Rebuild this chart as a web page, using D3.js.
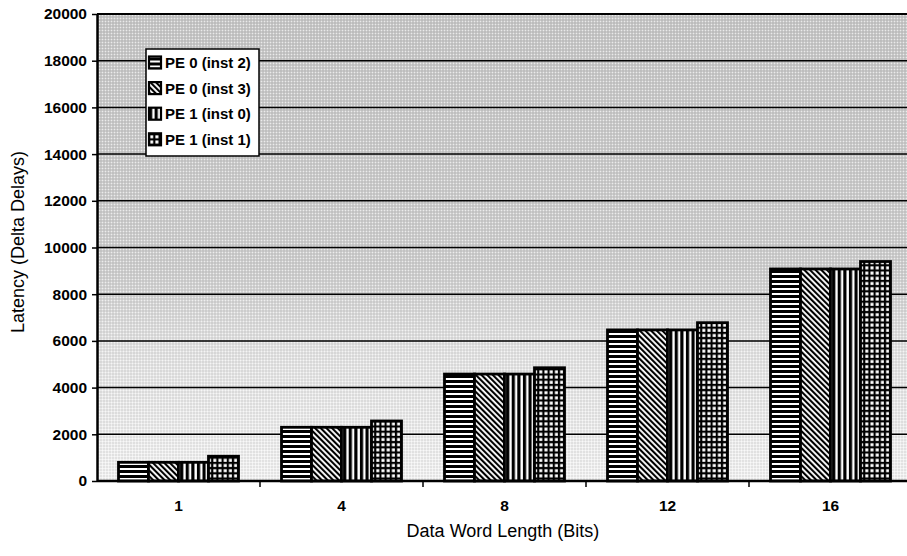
<!DOCTYPE html>
<html>
<head>
<meta charset="utf-8">
<script src="https://cdn.jsdelivr.net/npm/d3@7"></script>
<style>
  html, body { margin: 0; padding: 0; background: #fff; }
  svg { display: block; }
  text { font-family: "Liberation Sans", Arial, Helvetica, sans-serif; fill: #000; }
</style>
</head>
<body>
<script>
// Word lengths on the x axis
const categories = ["1", "4", "8", "12", "16"];

// Series names (legend order)
const seriesNames = ["PE 0 (inst 2)", "PE 0 (inst 3)", "PE 1 (inst 0)", "PE 1 (inst 1)"];

// Latency in delta delays, one array per processing element instance
const pe0Inst2 = [800, 2300, 4580, 6470, 9080];
const pe0Inst3 = [800, 2300, 4580, 6470, 9080];
const pe1Inst0 = [800, 2300, 4580, 6470, 9080];
const pe1Inst1 = [1060, 2570, 4850, 6780, 9400];

const yTicks = [0, 2000, 4000, 6000, 8000, 10000, 12000, 14000, 16000, 18000, 20000];

const seriesValues = [pe0Inst2, pe0Inst3, pe1Inst0, pe1Inst1];

const W = 907, H = 556;
const margin = { left: 97, top: 14, right: -5, bottom: 75 };
const x0 = margin.left, x1 = W - margin.right;
const yTop = margin.top, yBot = H - margin.bottom;

const svg = d3.select("body").append("svg").attr("width", W).attr("height", H);
const defs = svg.append("defs");

// Stippled grey plot background, heavier toward the top
const bg = defs.append("linearGradient").attr("id", "bgGrad")
  .attr("x1", 0).attr("y1", 0).attr("x2", 0).attr("y2", 1);
bg.append("stop").attr("offset", "0%").attr("stop-color", "#c9c9c9");
bg.append("stop").attr("offset", "55%").attr("stop-color", "#d0d0d0");
bg.append("stop").attr("offset", "72%").attr("stop-color", "#e4e4e4");
bg.append("stop").attr("offset", "100%").attr("stop-color", "#f3f3f3");

const dots = defs.append("pattern").attr("id", "dots")
  .attr("patternUnits", "userSpaceOnUse").attr("width", 3).attr("height", 3);
dots.append("rect").attr("width", 1).attr("height", 1).attr("fill", "#fff").attr("opacity", 0.6);
dots.append("rect").attr("x", 1.5).attr("y", 1.5).attr("width", 1).attr("height", 1).attr("fill", "#000").attr("opacity", 0.25);

// Bar fill patterns
function stripePattern(id, w, h, drawFn, transform) {
  const p = defs.append("pattern").attr("id", id)
    .attr("patternUnits", "userSpaceOnUse").attr("width", w).attr("height", h);
  if (transform) p.attr("patternTransform", transform);
  drawFn(p);
}
stripePattern("pHoriz", 6, 5, p => {
  p.append("rect").attr("width", 6).attr("height", 5).attr("fill", "#fff");
  p.append("rect").attr("width", 6).attr("height", 3).attr("fill", "#000");
});
stripePattern("pDiag", 4, 4, p => {
  p.append("rect").attr("width", 4).attr("height", 4).attr("fill", "#fff");
  p.append("rect").attr("width", 2.1).attr("height", 4).attr("fill", "#000");
}, "rotate(-45)");
stripePattern("pVert", 5.6, 6, p => {
  p.append("rect").attr("width", 5.6).attr("height", 6).attr("fill", "#fff");
  p.append("rect").attr("width", 3.2).attr("height", 6).attr("fill", "#000");
});
stripePattern("pGrid", 5.2, 5.2, p => {
  p.append("rect").attr("width", 5.2).attr("height", 5.2).attr("fill", "#000");
  p.append("rect").attr("x", 1.2).attr("y", 1.2).attr("width", 3).attr("height", 3).attr("fill", "#fff");
});
const fills = ["url(#pHoriz)", "url(#pDiag)", "url(#pVert)", "url(#pGrid)"];

// Scales
const x = d3.scaleBand().domain(categories).range([x0, x1]).paddingInner(0).paddingOuter(0);
const barGroupWidth = 120;
const xs = d3.scaleBand().domain(d3.range(seriesNames.length)).range([0, barGroupWidth]).padding(0);
const y = d3.scaleLinear().domain([0, 20000]).range([yBot, yTop]);

// Plot background
svg.append("rect").attr("x", x0).attr("y", yTop).attr("width", x1 - x0).attr("height", yBot - yTop)
  .attr("fill", "url(#bgGrad)");
svg.append("rect").attr("x", x0).attr("y", yTop).attr("width", x1 - x0).attr("height", yBot - yTop)
  .attr("fill", "url(#dots)");

// Horizontal gridlines
svg.append("g").selectAll("line").data(yTicks.filter(d => d > 0)).join("line")
  .attr("x1", x0).attr("x2", x1)
  .attr("y1", d => y(d)).attr("y2", d => y(d))
  .attr("stroke", "#000").attr("stroke-width", d => d === 20000 ? 2 : 1.5);

// Bars
const groups = svg.append("g").selectAll("g").data(categories).join("g")
  .attr("transform", c => `translate(${x(c) + (x.bandwidth() - barGroupWidth) / 2},0)`);
groups.selectAll("rect")
  .data((c, i) => seriesValues.map((vals, s) => ({ s, v: vals[i] })))
  .join("rect")
  .attr("x", d => xs(d.s))
  .attr("y", d => y(d.v))
  .attr("width", xs.bandwidth())
  .attr("height", d => y(0) - y(d.v))
  .attr("fill", d => fills[d.s])
  .attr("stroke", "#000").attr("stroke-width", 2.8);

// Y axis
const yAxis = d3.axisLeft(y).tickValues(yTicks).tickSize(5).tickSizeOuter(0).tickPadding(5)
  .tickFormat(d3.format("d"));
const gy = svg.append("g").attr("transform", `translate(${x0},0)`).call(yAxis);
gy.select(".domain").attr("stroke", "#000").attr("stroke-width", 2.5);
gy.selectAll(".tick line").attr("stroke", "#000").attr("stroke-width", 1.5);
gy.selectAll(".tick text").style("font-size", "15.5px").style("font-weight", "bold")
  .style("font-family", "'Liberation Sans', Arial, sans-serif").attr("fill", "#000");

// X axis: baseline, ticks between groups, category labels
const gx = svg.append("g").attr("transform", `translate(0,${yBot})`);
gx.append("line").attr("x1", x0).attr("x2", x1).attr("y1", 0).attr("y2", 0)
  .attr("stroke", "#000").attr("stroke-width", 2.5);
gx.selectAll("line.tk").data(categories.slice(1)).join("line").attr("class", "tk")
  .attr("x1", c => x(c)).attr("x2", c => x(c)).attr("y1", 0).attr("y2", 6)
  .attr("stroke", "#000").attr("stroke-width", 1.5);
gx.selectAll("text").data(categories).join("text")
  .attr("x", c => x(c) + x.bandwidth() / 2).attr("y", 30)
  .attr("text-anchor", "middle").style("font-size", "15.5px").style("font-weight", "bold")
  .text(c => c);

// Axis titles
svg.append("text").attr("x", (x0 + W) / 2 + 1).attr("y", 537)
  .attr("text-anchor", "middle").style("font-size", "18px").text("Data Word Length (Bits)");
svg.append("text").attr("transform", `translate(24,242) rotate(-90)`)
  .attr("text-anchor", "middle").style("font-size", "18px").text("Latency (Delta Delays)");

// Legend
const lg = svg.append("g").attr("transform", "translate(146,49)");
const rowH = 25.6;
lg.append("rect").attr("x", 0).attr("y", 0).attr("width", 113).attr("height", 107)
  .attr("fill", "#fff").attr("stroke", "#000").attr("stroke-width", 1.5);
const items = lg.selectAll("g").data(seriesNames).join("g")
  .attr("transform", (d, i) => `translate(3,${13.5 + i * rowH})`);
items.append("rect").attr("x", 0).attr("y", -6).attr("width", 12).attr("height", 12)
  .attr("fill", (d, i) => fills[i]).attr("stroke", "#000").attr("stroke-width", 2.2);
items.append("text").attr("x", 16).attr("y", 5.5)
  .style("font-size", "15px").style("font-weight", "bold").text(d => d);
</script>
</body>
</html>
